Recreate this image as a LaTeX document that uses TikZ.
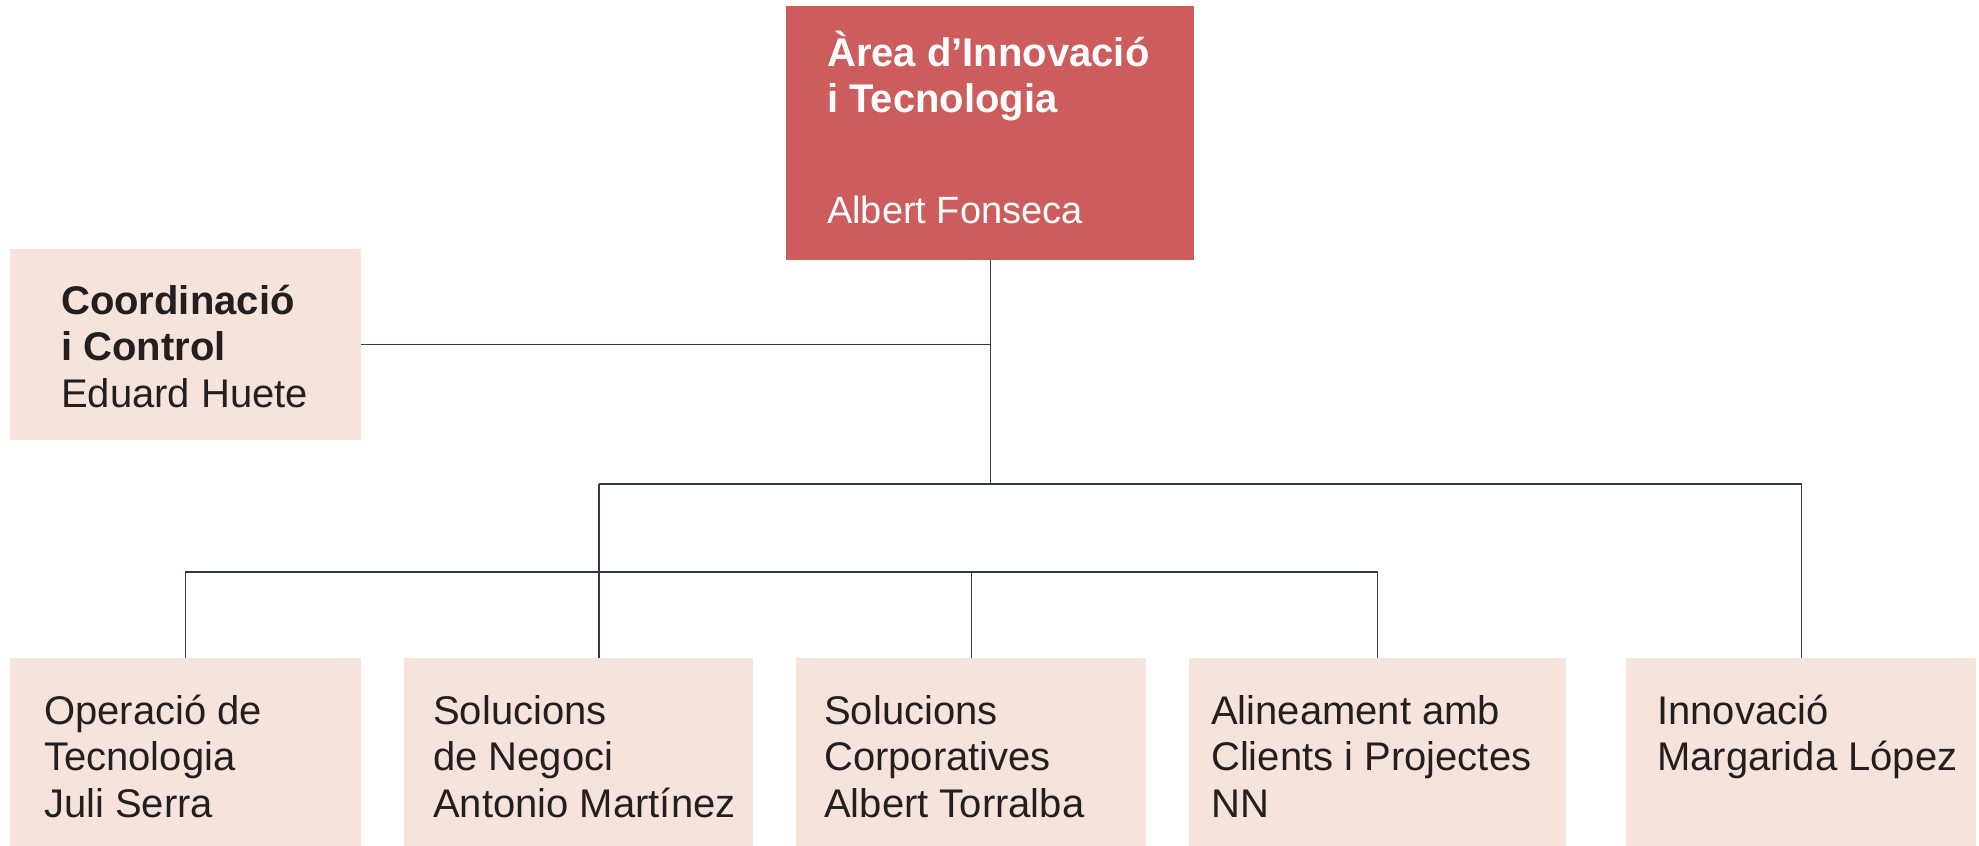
\documentclass[tikz,border=0pt]{standalone}
\usepackage{fontspec}
\setmainfont{Liberation Sans}
\definecolor{topred}{HTML}{CD5C5D}
\definecolor{lightbox}{HTML}{F6E4DC}
\definecolor{linecol}{HTML}{2E3B4B}
\definecolor{txtcol}{HTML}{231F20}
\tikzset{
  boxfill/.style={draw=none, fill=lightbox, inner sep=0pt, anchor=north west},
  topfill/.style={draw=none, fill=topred, inner sep=0pt, anchor=north west},
  label/.style={anchor=base west, inner sep=0pt, text=txtcol},
  conn/.style={draw=linecol, line width=1.2pt}
}
\newcommand{\boxtext}[1]{\parbox[t]{520pt}{\raggedright\fontsize{40}{46.5}\selectfont #1}}
\begin{document}
\begin{tikzpicture}[x=1pt,y=-1pt]
\useasboundingbox (0,0) rectangle (1979,846);
% boxes
\node[topfill, minimum width=408pt, minimum height=254pt] (top) at (786,6) {};
\node[boxfill, minimum width=351pt, minimum height=191pt] (coord) at (10,249) {};
\node[boxfill, minimum width=351pt, minimum height=188pt] (b1) at (10,658) {};
\node[boxfill, minimum width=349pt, minimum height=188pt] (b2) at (404,658) {};
\node[boxfill, minimum width=350pt, minimum height=188pt] (b3) at (796,658) {};
\node[boxfill, minimum width=377pt, minimum height=188pt] (b4) at (1189,658) {};
\node[boxfill, minimum width=350pt, minimum height=188pt] (b5) at (1626,658) {};
% texts
\node[label, text=white] (ttitle) at (827,66) {\boxtext{\bfseries Àrea d’Innovació\\i Tecnologia}};
\node[label, text=white] (tname) at (827,223) {\parbox[t]{400pt}{\fontsize{38}{44}\selectfont Albert Fonseca}};
\node[label] (tcoord) at (61,314) {\boxtext{\textbf{Coordinació}\\\textbf{i Control}\\Eduard Huete}};
\node[label] (t1) at (44,724) {\boxtext{Operació de\\Tecnologia\\Juli Serra}};
\node[label] (t2) at (433,724) {\boxtext{Solucions\\de Negoci\\Antonio Martínez}};
\node[label] (t3) at (824,724) {\boxtext{Solucions\\Corporatives\\Albert Torralba}};
\node[label] (t4) at (1211,724) {\boxtext{Alineament amb\\Clients i Projectes\\NN}};
\node[label] (t5) at (1657,724) {\boxtext{Innovació\\Margarida López}};
% junction helpers
\coordinate (h1) at (0,484);
\coordinate (h2) at (0,572);
\coordinate (x2) at (599,0);
% connectors
\draw[conn] (top.south) -- (top.south |- h1);
\draw[conn] (coord.east) -- (coord.east -| top.south);
\draw[conn] (x2 |- h1) -- (b5.north |- h1) -- (b5.north);
\draw[conn] (x2 |- h1) -- (x2 |- b2.north);
\draw[conn] (b1.north) -- (b1.north |- h2) -- (b4.north |- h2) -- (b4.north);
\draw[conn] (b3.north) -- (b3.north |- h2);
\end{tikzpicture}
\end{document}
